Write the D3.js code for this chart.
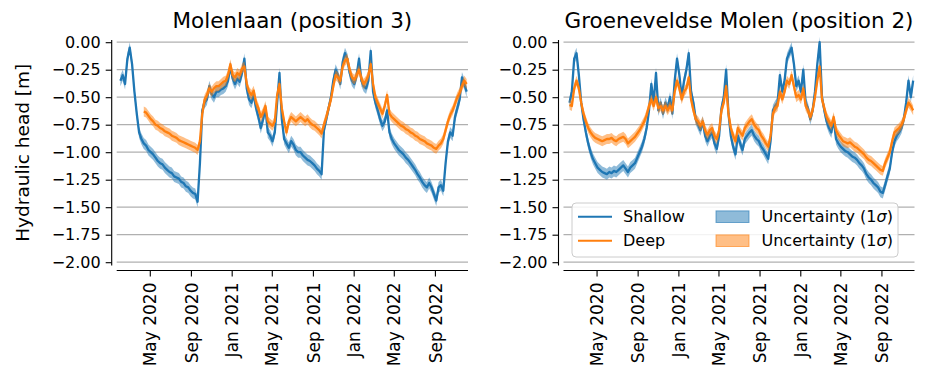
<!DOCTYPE html>
<html>
<head>
<meta charset="utf-8">
<script src="https://cdn.jsdelivr.net/npm/d3@7"></script>
<style>
  body { margin: 0; background: #fff; }
  svg { display: block; }
  text { font-family: "DejaVu Sans", sans-serif; fill: #000; }
</style>
</head>
<body>
<svg id="chart" width="933" height="377"></svg>
<script>
// Weekly hydraulic head samples [m], starting on this Monday
const firstSample = "2020-02-03";

// Molenlaan (position 3)
const molenlaanShallow = [
  -0.35,-0.30,-0.38,-0.15,-0.05,-0.20,-0.45,-0.65,-0.82,-0.88,
  -0.92,-0.94,-0.98,-1.00,-1.02,-1.05,-1.08,-1.10,-1.11,-1.14,
  -1.16,-1.18,-1.19,-1.22,-1.23,-1.24,-1.27,-1.28,-1.31,-1.32,
  -1.35,-1.37,-1.38,-1.45,-1.10,-0.62,-0.55,-0.52,-0.40,-0.47,
  -0.50,-0.45,-0.45,-0.43,-0.42,-0.40,-0.35,-0.22,-0.33,-0.38,
  -0.33,-0.36,-0.28,-0.15,-0.42,-0.52,-0.55,-0.48,-0.60,-0.68,
  -0.78,-0.70,-0.60,-0.82,-0.85,-0.90,-0.82,-0.55,-0.28,-0.70,
  -0.88,-0.92,-0.96,-0.90,-0.93,-0.98,-1.00,-1.00,-1.03,-1.05,
  -1.07,-1.08,-1.10,-1.12,-1.15,-1.17,-1.20,-0.80,-0.70,-0.60,
  -0.50,-0.35,-0.25,-0.30,-0.38,-0.18,-0.10,-0.15,-0.28,-0.35,
  -0.38,-0.30,-0.15,-0.35,-0.40,-0.42,-0.35,-0.08,-0.45,-0.55,
  -0.62,-0.70,-0.76,-0.72,-0.62,-0.82,-0.88,-0.92,-0.95,-0.98,
  -1.00,-1.02,-1.05,-1.07,-1.10,-1.13,-1.16,-1.20,-1.23,-1.27,
  -1.30,-1.32,-1.28,-1.32,-1.38,-1.44,-1.32,-1.30,-1.35,-1.10,
  -0.90,-0.82,-0.85,-0.68,-0.60,-0.52,-0.32,-0.38,-0.45
];
const molenlaanDeep = [
  null,null,null,null,null,null,null,null,null,null,
  -0.63,-0.64,-0.67,-0.70,-0.72,-0.75,-0.76,-0.78,-0.79,-0.81,
  -0.82,-0.83,-0.85,-0.86,-0.87,-0.89,-0.90,-0.91,-0.92,-0.93,
  -0.94,-0.95,-0.96,-0.98,-0.90,-0.65,-0.52,-0.48,-0.42,-0.45,
  -0.42,-0.40,-0.40,-0.38,-0.36,-0.35,-0.30,-0.20,-0.30,-0.32,
  -0.28,-0.30,-0.24,-0.22,-0.38,-0.45,-0.48,-0.44,-0.55,-0.60,
  -0.68,-0.64,-0.58,-0.72,-0.74,-0.76,-0.72,-0.48,-0.38,-0.60,
  -0.72,-0.82,-0.72,-0.68,-0.70,-0.72,-0.70,-0.68,-0.70,-0.72,
  -0.70,-0.73,-0.75,-0.76,-0.78,-0.80,-0.83,-0.75,-0.68,-0.60,
  -0.52,-0.40,-0.30,-0.32,-0.35,-0.22,-0.17,-0.15,-0.25,-0.32,
  -0.34,-0.30,-0.25,-0.33,-0.38,-0.35,-0.30,-0.20,-0.38,-0.50,
  -0.55,-0.60,-0.65,-0.58,-0.48,-0.65,-0.68,-0.70,-0.72,-0.74,
  -0.76,-0.77,-0.79,-0.80,-0.82,-0.83,-0.85,-0.86,-0.88,-0.89,
  -0.90,-0.92,-0.93,-0.94,-0.96,-0.97,-0.94,-0.92,-0.88,-0.80,
  -0.72,-0.66,-0.62,-0.56,-0.50,-0.46,-0.40,-0.35,-0.38
];

// Groeneveldse Molen (position 2)
const groeneveldseShallow = [
  null,-0.55,-0.45,-0.15,-0.10,-0.30,-0.55,-0.70,-0.82,-0.92,
  -1.00,-1.06,-1.10,-1.14,-1.16,-1.18,-1.19,-1.20,-1.18,-1.19,
  -1.17,-1.18,-1.16,-1.14,-1.12,-1.15,-1.18,-1.14,-1.12,-1.10,
  -1.05,-1.00,-0.95,-0.88,-0.78,-0.62,-0.38,-0.55,-0.28,-0.62,
  -0.55,-0.65,-0.55,-0.60,-0.50,-0.65,-0.35,-0.15,-0.30,-0.50,
  -0.35,-0.25,-0.10,-0.45,-0.55,-0.70,-0.75,-0.80,-0.72,-0.85,
  -0.90,-0.85,-0.82,-0.92,-0.97,-0.85,-0.60,-0.50,-0.25,-0.65,
  -0.85,-0.95,-1.02,-0.85,-0.92,-0.98,-0.88,-0.85,-0.82,-0.80,
  -0.85,-0.88,-0.90,-0.95,-0.98,-1.02,-1.06,-0.90,-0.62,-0.58,
  -0.55,-0.30,-0.45,-0.35,-0.15,-0.10,-0.05,-0.20,-0.40,-0.35,
  -0.45,-0.25,-0.55,-0.60,-0.70,-0.62,-0.45,-0.20,0.00,-0.50,
  -0.62,-0.72,-0.78,-0.82,-0.70,-0.88,-0.92,-0.95,-0.97,-0.99,
  -1.00,-1.02,-1.04,-1.05,-1.07,-1.10,-1.12,-1.15,-1.20,-1.23,
  -1.25,-1.28,-1.30,-1.32,-1.36,-1.37,-1.30,-1.22,-1.15,-1.00,
  -0.90,-0.85,-0.82,-0.78,-0.70,-0.55,-0.35,-0.50,-0.35
];
const groeneveldseDeep = [
  null,-0.57,-0.58,-0.42,-0.35,-0.42,-0.55,-0.65,-0.72,-0.78,
  -0.82,-0.85,-0.87,-0.88,-0.89,-0.90,-0.89,-0.88,-0.88,-0.87,
  -0.89,-0.90,-0.88,-0.87,-0.86,-0.88,-0.92,-0.90,-0.88,-0.86,
  -0.83,-0.80,-0.76,-0.72,-0.66,-0.58,-0.52,-0.58,-0.50,-0.60,
  -0.58,-0.62,-0.58,-0.62,-0.58,-0.62,-0.45,-0.35,-0.42,-0.52,
  -0.45,-0.42,-0.32,-0.52,-0.62,-0.70,-0.72,-0.76,-0.72,-0.80,
  -0.84,-0.80,-0.78,-0.85,-0.88,-0.80,-0.62,-0.55,-0.40,-0.65,
  -0.78,-0.85,-0.90,-0.78,-0.82,-0.85,-0.78,-0.75,-0.72,-0.70,
  -0.75,-0.78,-0.80,-0.85,-0.88,-0.92,-0.95,-0.85,-0.65,-0.60,
  -0.58,-0.45,-0.52,-0.45,-0.35,-0.38,-0.30,-0.40,-0.50,-0.48,
  -0.52,-0.42,-0.58,-0.62,-0.68,-0.62,-0.50,-0.35,-0.22,-0.52,
  -0.60,-0.68,-0.72,-0.76,-0.68,-0.80,-0.84,-0.87,-0.90,-0.91,
  -0.92,-0.91,-0.93,-0.95,-0.96,-0.98,-1.00,-1.02,-1.05,-1.07,
  -1.08,-1.10,-1.12,-1.14,-1.16,-1.17,-1.10,-1.05,-1.00,-0.90,
  -0.82,-0.80,-0.78,-0.75,-0.70,-0.62,-0.55,-0.58,-0.62
];

// One-sigma uncertainty of each layer [m]
const sigmaShallow = 0.05;
const sigmaDeep = 0.045;

const panelTitles = ["Molenlaan (position 3)", "Groeneveldse Molen (position 2)"];
const xTickDates = ["2020-05-01","2020-09-01","2021-01-01","2021-05-01",
                    "2021-09-01","2022-01-01","2022-05-01","2022-09-01"];
const yTicks = [0, -0.25, -0.5, -0.75, -1, -1.25, -1.5, -1.75, -2];
const xLimits = ["2020-01-23", "2022-12-09"];
const yLimits = [-2.03, 0.02];
const legendLabels = ["Shallow", "Deep", "Uncertainty (1", "Uncertainty (1"];

const BLUE = "#1f77b4", ORANGE = "#ff7f0e";
const parse = d3.utcParse("%Y-%m-%d");
const start = parse(firstSample);
const weeks = d3.range(molenlaanShallow.length).map(i => d3.utcDay.offset(start, 7 * i));

const svg = d3.select("#chart");

const panels = [
  { title: panelTitles[0], shallow: molenlaanShallow, deep: molenlaanDeep, left: 116.7, right: 468 },
  { title: panelTitles[1], shallow: groeneveldseShallow, deep: groeneveldseDeep, left: 563.5, right: 914.5 }
];
const plotTop = 40, plotBottom = 265.5, spineOffset = 5;

const y = d3.scaleLinear().domain(yLimits).range([plotBottom, plotTop]);
const fmtY = v => (v < 0 ? "\u2212" : "") + Math.abs(v).toFixed(2);

panels.forEach(p => {
  const x = d3.scaleUtc().domain(xLimits.map(parse)).range([p.left, p.right]);
  const g = svg.append("g");

  // horizontal grid
  g.append("g").selectAll("line").data(yTicks).join("line")
    .attr("x1", p.left).attr("x2", p.right)
    .attr("y1", d => y(d)).attr("y2", d => y(d))
    .attr("stroke", "#b0b0b0").attr("stroke-width", 1.2);

  // uncertainty bands and lines
  const series = [
    { values: p.shallow, sigma: sigmaShallow, color: BLUE },
    { values: p.deep, sigma: sigmaDeep, color: ORANGE }
  ];
  series.forEach(s => {
    const pts = weeks.map((d, i) => ({ date: d, v: s.values[i] }));
    const area = d3.area().defined(d => d.v != null)
      .x(d => x(d.date)).y0(d => y(d.v - s.sigma)).y1(d => y(d.v + s.sigma));
    const line = d3.line().defined(d => d.v != null)
      .x(d => x(d.date)).y(d => y(d.v));
    g.append("path").attr("d", area(pts))
      .attr("fill", s.color).attr("fill-opacity", 0.5).attr("stroke", "none");
    g.append("path").attr("d", line(pts))
      .attr("fill", "none").attr("stroke", s.color).attr("stroke-width", 2.3)
      .attr("stroke-linejoin", "round");
  });

  // left axis (offset spine)
  const yAxis = d3.axisLeft(y).tickValues(yTicks).tickFormat(fmtY).tickSize(6).tickPadding(5);
  const ya = g.append("g").attr("transform", `translate(${p.left - spineOffset},0)`).call(yAxis);
  ya.select(".domain").attr("d", `M0,${plotTop}V${plotBottom}`).attr("stroke", "#000").attr("stroke-width", 1.1);
  ya.selectAll(".tick line").attr("stroke", "#000").attr("stroke-width", 1.1);
  ya.selectAll(".tick text").attr("font-size", 16).attr("font-family", "DejaVu Sans").attr("fill", "#000");

  // bottom axis (offset spine)
  const xAxis = d3.axisBottom(x).tickValues(xTickDates.map(parse))
    .tickFormat(d3.utcFormat("%b %Y")).tickSize(6).tickPadding(6);
  const xa = g.append("g").attr("transform", `translate(0,${plotBottom + spineOffset})`).call(xAxis);
  xa.select(".domain").attr("d", `M${p.left},0H${p.right}`).attr("stroke", "#000").attr("stroke-width", 1.1);
  xa.selectAll(".tick line").attr("stroke", "#000").attr("stroke-width", 1.1);
  xa.selectAll(".tick text")
    .attr("font-size", 17).attr("font-family", "DejaVu Sans").attr("fill", "#000")
    .attr("text-anchor", "end")
    .attr("transform", "rotate(-90)")
    .attr("x", -12).attr("y", 0).attr("dy", "0.36em");

  // title
  svg.append("text").attr("x", (p.left + p.right) / 2).attr("y", 28)
    .attr("text-anchor", "middle").attr("font-size", 21.5).text(p.title);
});

// y-axis label
svg.append("text")
  .attr("transform", `translate(28.5,${(plotTop + plotBottom) / 2}) rotate(-90)`)
  .attr("text-anchor", "middle").attr("font-size", 18.5)
  .text("Hydraulic head [m]");

// legend (right panel)
const lg = svg.append("g");
lg.append("rect").attr("x", 572).attr("y", 203).attr("width", 326).attr("height", 54)
  .attr("rx", 4).attr("fill", "#fff").attr("fill-opacity", 0.85)
  .attr("stroke", "#cccccc").attr("stroke-width", 1);
const rows = [216.7, 240.7];
[BLUE, ORANGE].forEach((c, i) => {
  lg.append("line").attr("x1", 578).attr("x2", 612).attr("y1", rows[i]).attr("y2", rows[i])
    .attr("stroke", c).attr("stroke-width", 2);
  lg.append("text").attr("x", 623).attr("y", rows[i]).attr("dy", "0.36em")
    .attr("font-size", 16).text(legendLabels[i]);
  lg.append("rect").attr("x", 716).attr("y", rows[i] - 5.8).attr("width", 33).attr("height", 11.6)
    .attr("fill", c).attr("fill-opacity", 0.5).attr("stroke", c).attr("stroke-opacity", 0.6);
  const t = lg.append("text").attr("x", 761.5).attr("y", rows[i]).attr("dy", "0.36em")
    .attr("font-size", 16).text(legendLabels[i + 2]);
  t.append("tspan").attr("font-style", "italic").text("\u03c3");
  t.append("tspan").text(")");
});
</script>
</body>
</html>
